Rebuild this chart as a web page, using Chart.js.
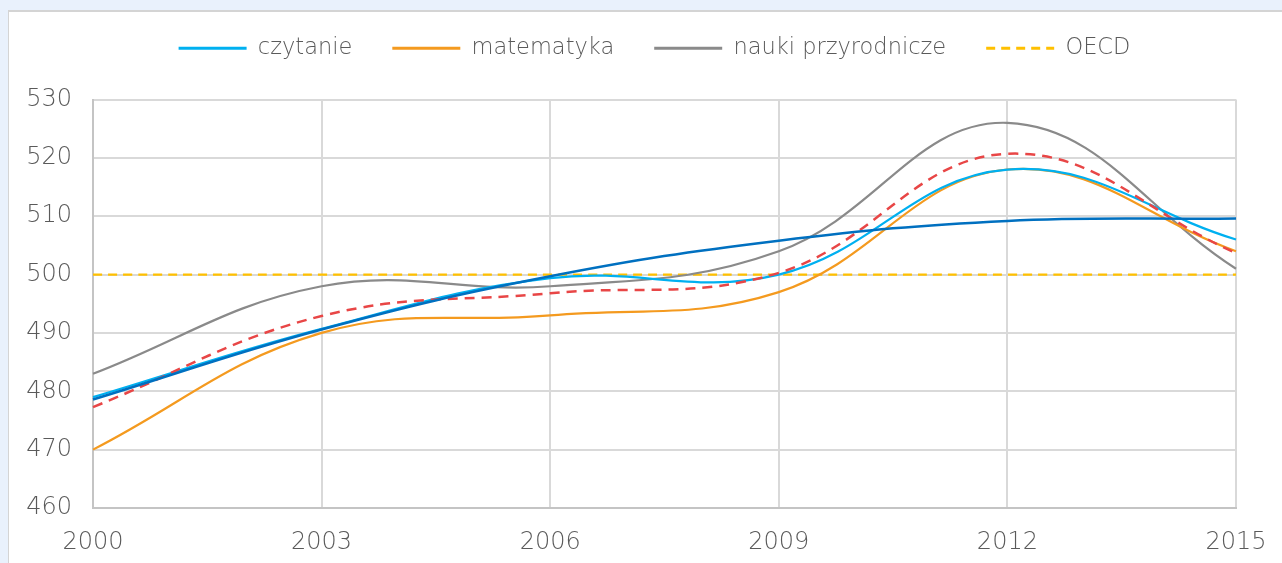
<!DOCTYPE html>
<html>
<head>
<meta charset="utf-8">
<script src="https://cdn.jsdelivr.net/npm/chart.js@4"></script>
<style>
  html, body { margin: 0; padding: 0; }
  body { width: 1282px; height: 563px; background: #e9f1fc; position: relative; overflow: hidden; }
  #panel { position: absolute; left: 8px; top: 10px; width: 1290px; height: 560px; background: #fff; border: 1px solid #d4d4d4; border-top-width: 2px; }
  #wrap { position: absolute; left: 9px; top: 12px; width: 1273px; height: 551px; }
</style>
</head>
<body>
<div id="panel"></div>
<div id="wrap"><canvas id="c"></canvas></div>
<script>
  const years = ["2000", "2003", "2006", "2009", "2012", "2015"];
  const czytanie = [479.0, 490.7, 499.4, 500.0, 518.0, 506.0];
  const matematyka = [470.0, 490.0, 493.0, 497.0, 518.0, 504.0];
  const nauki = [483.0, 498.0, 498.0, 504.0, 526.0, 501.0];
  const oecd = [500, 500, 500, 500, 500, 500];
  const srednia = [477.3, 492.9, 496.8, 500.3, 520.7, 503.7];
  const trend = [478.6, 490.6, 499.7, 505.8, 509.2, 509.6];
  const yTicks = [460, 470, 480, 490, 500, 510, 520, 530];

  const FONT = "'DejaVu Sans', 'Liberation Sans', sans-serif";
  const TEXT = "#5a5a5a";
  const LEGEND_H = 102.5;
  const LEGEND_SHIFT = 32;

  function line(label, data, color, width, dash, legend) {
    return {
      label: label, data: data, borderColor: color, backgroundColor: color,
      borderWidth: width, borderDash: dash || [], pointRadius: 0, tension: 0.4,
      fill: false, pointStyle: "line", showInLegend: legend
    };
  }

  // first dataset is drawn on top
  const datasets = [
    line("trend", trend, "#0070c0", 2.5, null, false),
    line("średnia", srednia, "#e84646", 2.5, [10, 7], false),
    line("czytanie", czytanie, "#00b0f0", 2.2, null, true),
    line("matematyka", matematyka, "#f49a1f", 2.2, null, true),
    line("nauki przyrodnicze", nauki, "#8a8a8a", 2.2, null, true),
    line("OECD", oecd, "#ffc000", 2.2, [9, 6], true),
  ];

  // fixed legend height, and legend moved a bit right like in the reference
  const legendTweak = {
    id: "legendTweak",
    beforeLayout(chart) {
      const lg = chart.legend;
      if (lg && !lg._patched) {
        const fit = lg.fit;
        lg.fit = function () { fit.call(this); this.height = LEGEND_H; };
        lg._patched = true;
      }
    },
    afterLayout(chart) {
      const lg = chart.legend;
      if (lg) { lg.left += LEGEND_SHIFT; lg.right += LEGEND_SHIFT; }
    },
  };

  new Chart(document.getElementById("c"), {
    type: "line",
    data: { labels: years, datasets: datasets },
    plugins: [legendTweak],
    options: {
      responsive: true, maintainAspectRatio: false, animation: false,
      layout: { padding: { top: -15, right: 46, bottom: 0, left: 0 } },
      plugins: {
        tooltip: { enabled: false },
        legend: {
          position: "top",
          labels: {
            usePointStyle: true, pointStyleWidth: 68, boxHeight: 2,
            padding: 40, color: TEXT, font: { family: FONT, size: 22.5, weight: 200 },
            generateLabels: (chart) => {
              const items = Chart.defaults.plugins.legend.labels.generateLabels(chart);
              items.forEach((it) => {
                const ds = chart.data.datasets[it.datasetIndex];
                it.strokeStyle = ds.borderColor;
                it.lineDash = ds.borderDash;
                it.lineWidth = 3;
              });
              return items;
            },
            filter: (item, data) => data.datasets[item.datasetIndex].showInLegend,
          },
        },
      },
      scales: {
        x: {
          grid: { color: "#d9d9d9", lineWidth: 2, drawTicks: false },
          border: { color: "#c4c4c4", width: 2 },
          ticks: { color: TEXT, font: { family: FONT, size: 24, weight: 200 }, padding: 20, maxRotation: 0 },
          afterFit: (s) => { s.height = 55; s.paddingLeft = 0; s.paddingRight = 0; },
        },
        y: {
          min: 460, max: 530,
          grid: { color: "#d9d9d9", lineWidth: 2, drawTicks: false },
          border: { color: "#c4c4c4", width: 2 },
          afterBuildTicks: (s) => { s.ticks = yTicks.map((v) => ({ value: v })); },
          ticks: { color: TEXT, font: { family: FONT, size: 24, weight: 200 }, padding: 21 },
          afterFit: (s) => { s.width = 84; },
        },
      },
    },
  });
</script>
</body>
</html>
